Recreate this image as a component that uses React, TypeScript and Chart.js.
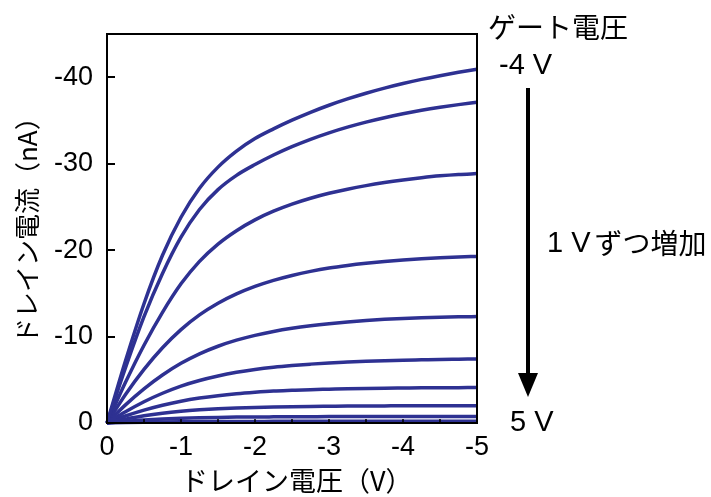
import React, { useEffect, useRef } from 'react';
import { Chart, registerables } from 'chart.js';

Chart.register(...registerables);

// Drain voltage (V)
const drainVoltages = [0, -0.25, -0.5, -0.75, -1, -1.25, -1.5, -1.75, -2, -2.25, -2.5, -2.75, -3, -3.25, -3.5, -3.75, -4, -4.25, -4.5, -4.75, -5];

// Gate voltages (V)
const gateVoltages = ['-4 V', '-3 V', '-2 V', '-1 V', '0 V', '1 V', '2 V', '3 V', '4 V', '5 V'];

// Drain current (nA) for each gate voltage
const idGateM4 = [0, -7.2, -13.8, -19.4, -23.8, -27.15, -29.6, -31.45, -32.9, -34.02, -35.03, -35.94, -36.76, -37.49, -38.15, -38.74, -39.27, -39.75, -40.18, -40.57, -40.92];
const idGateM3 = [0, -6.4, -12.3, -17.3, -21.5, -24.7, -27.0, -28.65, -29.9, -31.0, -31.97, -32.82, -33.57, -34.23, -34.81, -35.32, -35.77, -36.17, -36.52, -36.83, -37.1];
const idGateM2 = [0, -4.7, -9.0, -12.8, -16.1, -18.7, -20.7, -22.25, -23.5, -24.5, -25.32, -26.0, -26.57, -27.05, -27.46, -27.81, -28.11, -28.37, -28.59, -28.75, -28.85];
const idGateM1 = [0, -3.3, -6.2, -8.7, -10.8, -12.5, -13.85, -14.93, -15.8, -16.5, -17.07, -17.54, -17.93, -18.23, -18.48, -18.69, -18.86, -19.0, -19.11, -19.2, -19.27];
const idGate0 = [0, -2.1, -3.95, -5.55, -6.9, -8.0, -8.88, -9.58, -10.14, -10.59, -10.95, -11.24, -11.48, -11.68, -11.85, -11.99, -12.1, -12.18, -12.24, -12.28, -12.31];
const idGate1 = [0, -1.3, -2.46, -3.44, -4.27, -4.92, -5.44, -5.86, -6.19, -6.45, -6.65, -6.81, -6.95, -7.05, -7.14, -7.21, -7.27, -7.31, -7.35, -7.38, -7.41];
const idGate2 = [0, -0.81, -1.49, -2.06, -2.52, -2.88, -3.16, -3.38, -3.55, -3.69, -3.78, -3.86, -3.91, -3.96, -4.0, -4.03, -4.05, -4.07, -4.08, -4.09, -4.1];
const idGate3 = [0, -0.45, -0.84, -1.14, -1.36, -1.52, -1.64, -1.73, -1.8, -1.85, -1.89, -1.92, -1.94, -1.96, -1.97, -1.98, -1.99, -1.99, -2.0, -2.0, -2.0];
const idGate4 = [0, -0.2, -0.35, -0.47, -0.55, -0.61, -0.65, -0.68, -0.7, -0.71, -0.72, -0.73, -0.74, -0.74, -0.75, -0.75, -0.75, -0.75, -0.75, -0.75, -0.75];
const idGate5 = [0, -0.06, -0.1, -0.13, -0.15, -0.16, -0.17, -0.18, -0.18, -0.19, -0.19, -0.19, -0.19, -0.2, -0.2, -0.2, -0.2, -0.2, -0.2, -0.2, -0.2];

const currentSeries = [idGateM4, idGateM3, idGateM2, idGateM1, idGate0, idGate1, idGate2, idGate3, idGate4, idGate5];

// Axis ticks
const xTickValues = [0, -1, -2, -3, -4, -5];
const xMinorTickValues = [-0.5, -1, -1.5, -2, -2.5, -3, -3.5, -4, -4.5];
const yTickValues = [0, -10, -20, -30, -40];

// Text
const xTitle = 'ドレイン電圧（V）';
const yTitle = 'ドレイン電流（nA）';
const gateTitle = 'ゲート電圧';
const stepTextLatin = '1 V';
const stepTextCjk = 'ずつ増加';

const LINE_COLOR = '#2e3192';
const LATIN = '"Liberation Sans", Arial, sans-serif';
const CJK = '"Noto Sans CJK JP", "Liberation Sans", sans-serif';

const decorPlugin = {
  id: 'decor',
  afterDatasetsDraw(chart: any) {
    const { ctx, chartArea, scales } = chart;
    const xs = scales.x;
    const ys = scales.y;
    ctx.save();
    ctx.strokeStyle = '#000';
    ctx.lineWidth = 2;
    ctx.strokeRect(chartArea.left, chartArea.top, chartArea.right - chartArea.left, chartArea.bottom - chartArea.top);
    for (const v of yTickValues) {
      const py = Math.round(ys.getPixelForValue(v));
      ctx.beginPath();
      ctx.moveTo(chartArea.left, py);
      ctx.lineTo(chartArea.left + 8, py);
      ctx.stroke();
    }
    ctx.lineWidth = 1.5;
    for (const v of xMinorTickValues) {
      const px = Math.round(xs.getPixelForValue(v));
      ctx.beginPath();
      ctx.moveTo(px, chartArea.bottom);
      ctx.lineTo(px, chartArea.bottom - 4);
      ctx.stroke();
    }
    ctx.restore();
  },
  afterDraw(chart: any) {
    const { ctx } = chart;
    ctx.save();
    ctx.fillStyle = '#000';
    ctx.textBaseline = 'middle';
    ctx.textAlign = 'left';
    // x title
    ctx.font = `27px ${CJK}`;
    ctx.fillText(xTitle, 181, 481);
    // y title
    ctx.save();
    ctx.translate(27, 344);
    ctx.rotate(-Math.PI / 2);
    ctx.font = `26px ${CJK}`;
    ctx.fillText(yTitle, 0, 0);
    ctx.restore();
    // right annotations
    ctx.font = `28px ${CJK}`;
    ctx.fillText(gateTitle, 488, 27);
    ctx.font = `29px ${LATIN}`;
    ctx.fillText(gateVoltages[0], 499, 66);
    ctx.fillText(gateVoltages[gateVoltages.length - 1], 510, 423);
    ctx.fillText(stepTextLatin, 547, 244);
    const w = ctx.measureText(stepTextLatin + ' ').width;
    ctx.font = `28px ${CJK}`;
    ctx.fillText(stepTextCjk, 547 + w - 4, 243);
    // arrow
    const ax = 528;
    ctx.strokeStyle = '#000';
    ctx.lineWidth = 4;
    ctx.beginPath();
    ctx.moveTo(ax, 88);
    ctx.lineTo(ax, 378);
    ctx.stroke();
    ctx.beginPath();
    ctx.moveTo(ax - 10, 373);
    ctx.lineTo(ax + 10, 373);
    ctx.lineTo(ax, 397);
    ctx.closePath();
    ctx.fill();
    ctx.restore();
  },
};

export default function App() {
  const canvasRef = useRef<HTMLCanvasElement | null>(null);

  useEffect(() => {
    const canvas = canvasRef.current;
    if (!canvas) return;
    const datasets = currentSeries.map((series, i) => ({
      label: gateVoltages[i],
      data: drainVoltages.map((v, j) => ({ x: v, y: series[j] })),
      borderColor: LINE_COLOR,
      backgroundColor: LINE_COLOR,
      borderWidth: 3.5,
      pointRadius: 0,
      cubicInterpolationMode: 'monotone' as const,
      fill: false,
      clip: 4,
    }));

    const chart = new Chart(canvas, {
      type: 'line',
      data: { datasets },
      options: {
        animation: false,
        responsive: false,
        layout: { padding: { left: 0, right: 234, top: 34, bottom: 0 } },
        plugins: {
          legend: { display: false },
          tooltip: { enabled: false },
        },
        scales: {
          x: {
            type: 'linear',
            min: -5,
            max: 0,
            reverse: true,
            grid: { display: false },
            border: { display: false },
            afterBuildTicks: (scale: any) => {
              scale.ticks = xTickValues.map((v) => ({ value: v }));
            },
            afterFit: (scale: any) => {
              scale.height = 74;
            },
            ticks: {
              color: '#000',
              font: { family: LATIN, size: 27 },
              padding: 0,
              maxRotation: 0,
              callback: (v: any) => String(v),
            },
          },
          y: {
            type: 'linear',
            min: -45,
            max: 0,
            reverse: true,
            grid: { display: false },
            border: { display: false },
            afterBuildTicks: (scale: any) => {
              scale.ticks = yTickValues.map((v) => ({ value: v }));
            },
            afterFit: (scale: any) => {
              scale.width = 107;
            },
            ticks: {
              color: '#000',
              font: { family: LATIN, size: 27 },
              padding: 6,
              callback: (v: any) => String(v),
            },
          },
        },
      },
      plugins: [decorPlugin],
    });
    return () => chart.destroy();
  }, []);

  return (
    <div style={{ position: 'fixed', left: 0, top: 0, width: 711, height: 497, background: '#fff' }}>
      <canvas ref={canvasRef} width={711} height={497} style={{ display: 'block', width: 711, height: 497 }} />
    </div>
  );
}
